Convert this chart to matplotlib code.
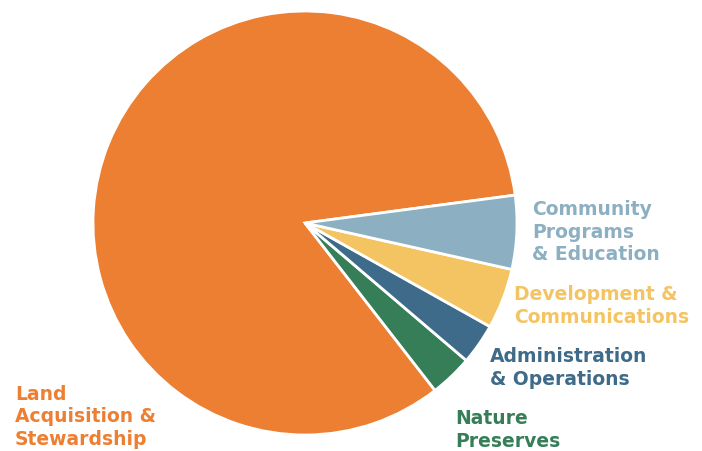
import matplotlib.pyplot as plt

# budget shares (percent)
labels = ["Land\nAcquisition &\nStewardship", "Nature\nPreserves",
          "Administration\n& Operations", "Development &\nCommunications",
          "Community\nPrograms\n& Education"]
shares = [83.2, 3.25, 3.1, 4.6, 5.6]
colors = ["#ED7F33", "#367E58", "#3F6B8A", "#F4C462", "#8DAFC2"]

# label anchors (left x, centre y) in pixel space, y measured from the top
label_pos = [(15, 417), (455, 430), (490, 368), (514, 306), (532, 232)]

W, H = 702, 451
fig = plt.figure(figsize=(W / 100, H / 100), dpi=100)
ax = fig.add_axes([0, 0, 1, 1])

ax.pie(shares, colors=colors, startangle=7.56, counterclock=True,
       center=(305, H - 223), radius=212,
       wedgeprops=dict(edgecolor="white", linewidth=2.0))

for lab, (x, y), c in zip(labels, label_pos, colors):
    ax.text(x, H - y, lab, color=c, fontsize=13.5, fontweight="bold",
            family="DejaVu Sans", ha="left", va="center", linespacing=1.25)

ax.set_xlim(0, W)
ax.set_ylim(0, H)
ax.set_aspect("equal")
ax.axis("off")

fig.savefig("out.png", dpi=100)
